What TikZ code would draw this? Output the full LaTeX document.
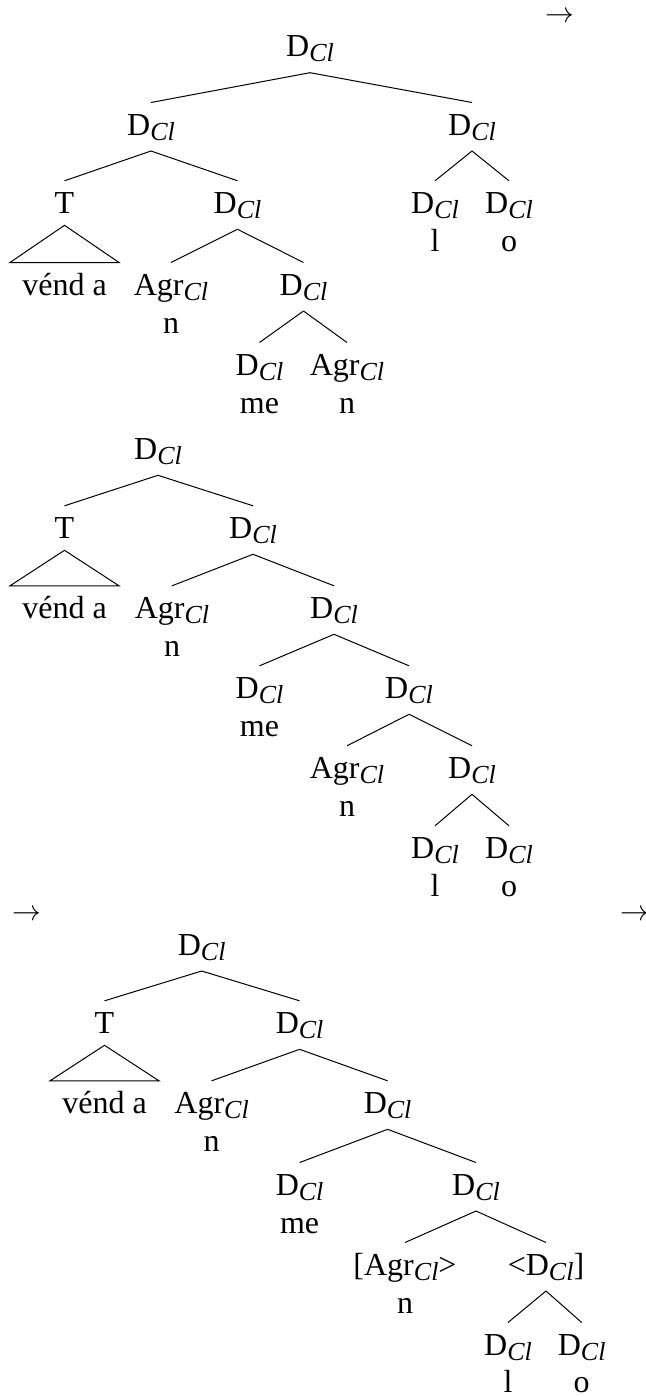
\documentclass[tikz,border=0pt]{standalone}
\usepackage{fontspec}
\setmainfont{Liberation Serif}
\usetikzlibrary{calc}
\newcommand{\cl}{\raisebox{-2.6pt}{\fontsize{13}{13}\selectfont\itshape Cl}}
\newcommand{\DCl}{D\cl}
\tikzset{
  lbl/.style={anchor=base,inner sep=0pt,font=\fontsize{16}{19}\selectfont},
  arr/.style={anchor=base,inner sep=0pt,font=\fontsize{15}{18}\selectfont},
  edge/.style={line width=0.5pt}
}
\newcommand{\br}[2]{\draw[edge] ($(#1.base)+(0,16)$) -- ($(#2.base)+(0,-32.5)$);}
\newcommand{\tri}[2]{\draw[edge] ($(#1.base)+(0,12)$) -- ($(#2.base)+(54.5,-32.5)$) -- ($(#2.base)+(-54.5,-32.5)$) -- cycle;}
\begin{document}
\begin{tikzpicture}[x=0.5pt,y=-0.5pt]
\useasboundingbox (0,0) rectangle (645,1397);
\fill[white] (0,0) rectangle (645,1397);
% arrows
\node[arr] (ar1) at (559.5,22.5) {$\rightarrow$};
\node[arr] (ar2) at (27,920) {$\rightarrow$};
\node[arr,anchor=base west] (ar3) at (620,920) {$\rightarrow$};
% ---------------- Tree 1
\node[lbl] (r1) at (310,56.7) {\DCl};
\node[lbl] (a1) at (151,135) {\DCl};
\node[lbl] (b1) at (472,135) {\DCl};
\node[lbl] (t1) at (64.5,213.3) {T};
\node[lbl] (c1) at (237.5,213.3) {\DCl};
\node[lbl] (v1) at (64.5,295) {vénd a};
\node[lbl] (g1) at (171,295) {Agr\cl};
\node[lbl] (gn1) at (171,333.3) {n};
\node[lbl] (d1) at (303.5,295) {\DCl};
\node[lbl] (e1) at (259.5,375) {\DCl};
\node[lbl] (em1) at (259.5,413) {me};
\node[lbl] (f1) at (347,375) {Agr\cl};
\node[lbl] (fn1) at (347,413) {n};
\node[lbl] (h1) at (435,213.3) {\DCl};
\node[lbl] (hl1) at (435,251.5) {l};
\node[lbl] (i1) at (509,213.3) {\DCl};
\node[lbl] (io1) at (509,251.5) {o};
\br{r1}{a1}\br{r1}{b1}
\br{a1}{t1}\br{a1}{c1}
\tri{t1}{v1}
\br{c1}{g1}\br{c1}{d1}
\br{d1}{e1}\br{d1}{f1}
\br{b1}{h1}\br{b1}{i1}
% ---------------- Tree 2
\node[lbl] (r2) at (158,459.3) {\DCl};
\node[lbl] (t2) at (64.5,538.3) {T};
\node[lbl] (c2) at (253,538.3) {\DCl};
\node[lbl] (v2) at (64.5,618.3) {vénd a};
\node[lbl] (g2) at (172,618.3) {Agr\cl};
\node[lbl] (gn2) at (172,656.6) {n};
\node[lbl] (d2) at (334,618.3) {\DCl};
\node[lbl] (e2) at (259.5,698.3) {\DCl};
\node[lbl] (em2) at (259.5,736.6) {me};
\node[lbl] (f2) at (409,698.3) {\DCl};
\node[lbl] (g2b) at (347,778.3) {Agr\cl};
\node[lbl] (gn2b) at (347,816.6) {n};
\node[lbl] (h2) at (472,778.3) {\DCl};
\node[lbl] (l2) at (435,858.3) {\DCl};
\node[lbl] (ll2) at (435,896.6) {l};
\node[lbl] (o2) at (509,858.3) {\DCl};
\node[lbl] (oo2) at (509,896.6) {o};
\br{r2}{t2}\br{r2}{c2}
\tri{t2}{v2}
\br{c2}{g2}\br{c2}{d2}
\br{d2}{e2}\br{d2}{f2}
\br{f2}{g2b}\br{f2}{h2}
\br{h2}{l2}\br{h2}{o2}
% ---------------- Tree 3
\node[lbl] (r3) at (201.7,955) {\DCl};
\node[lbl] (t3) at (104.5,1033.3) {T};
\node[lbl] (c3) at (299.6,1033.3) {\DCl};
\node[lbl] (v3) at (104.5,1113.3) {vénd a};
\node[lbl] (g3) at (211.6,1113.3) {Agr\cl};
\node[lbl] (gn3) at (211.6,1151.6) {n};
\node[lbl] (d3) at (387.6,1113.3) {\DCl};
\node[lbl] (e3) at (299.6,1195) {\DCl};
\node[lbl] (em3) at (299.6,1233.3) {me};
\node[lbl] (f3) at (476,1195) {\DCl};
\node[lbl] (g3b) at (405,1275) {[Agr\cl>};
\node[lbl] (gn3b) at (405,1313.3) {n};
\node[lbl] (h3) at (546,1275) {<\DCl]};
\node[lbl] (l3) at (508,1355) {\DCl};
\node[lbl] (ll3) at (508,1392) {l};
\node[lbl] (o3) at (581.7,1355) {\DCl};
\node[lbl] (oo3) at (581.7,1392) {o};
\br{r3}{t3}\br{r3}{c3}
\tri{t3}{v3}
\br{c3}{g3}\br{c3}{d3}
\br{d3}{e3}\br{d3}{f3}
\br{f3}{g3b}\br{f3}{h3}
\br{h3}{l3}\br{h3}{o3}
\end{tikzpicture}
\end{document}
